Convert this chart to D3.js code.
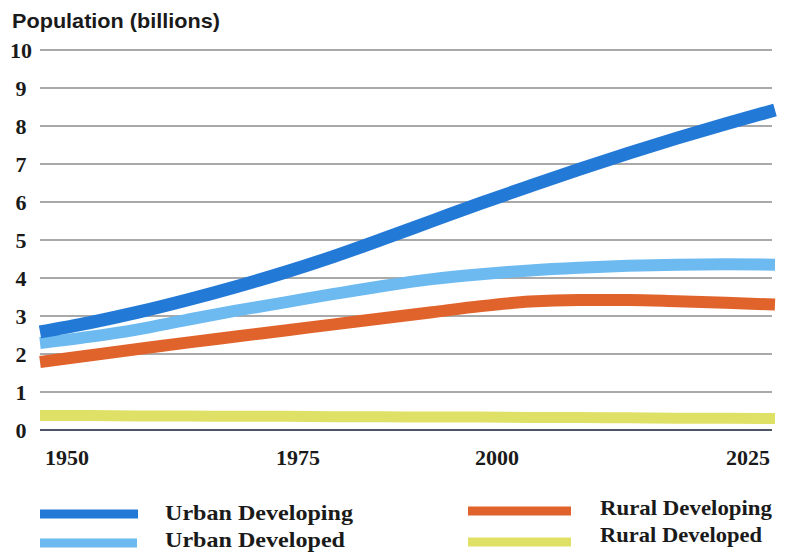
<!DOCTYPE html>
<html><head><meta charset="utf-8">
<script src="https://cdn.jsdelivr.net/npm/d3@7"></script>
<style>
html,body{margin:0;padding:0;background:#fff;}
svg{display:block;}
</style></head>
<body>
<svg id="chart" width="798" height="553"></svg>
<script>
const years = [1950,1955,1960,1965,1970,1975,1980,1985,1990,1995,2000,2005,2010,2015,2020,2025];
const urbanDeveloping = [2.58,2.82,3.1,3.42,3.77,4.15,4.57,5.03,5.5,5.97,6.42,6.86,7.28,7.68,8.06,8.42];
const urbanDeveloped  = [2.29,2.45,2.65,2.9,3.14,3.36,3.58,3.79,3.97,4.1,4.2,4.27,4.32,4.35,4.36,4.35];
const ruralDeveloping = [1.79,1.96,2.13,2.3,2.46,2.62,2.78,2.94,3.1,3.26,3.38,3.42,3.42,3.39,3.35,3.3];
const ruralDeveloped  = [0.38,0.38,0.37,0.37,0.36,0.36,0.35,0.35,0.34,0.34,0.33,0.33,0.32,0.31,0.31,0.3];
const yTicks = [0,1,2,3,4,5,6,7,8,9,10];
const xTickLabels = ["1950","1975","2000","2025"];
const seriesNames = ["Urban Developing","Urban Developed","Rural Developing","Rural Developed"];
const seriesColors = ["#2279d6","#6dbaf0","#e0632b","#dfe167"];

const series = [urbanDeveloping, urbanDeveloped, ruralDeveloping, ruralDeveloped].map((vals,i)=>({
  name: seriesNames[i], color: seriesColors[i],
  values: vals.map((v,j)=>({year: years[j], value: v}))
}));

const svg = d3.select("#chart");
const x = d3.scaleLinear().domain([1950,2025]).range([40,775]);
const xLab = d3.scaleLinear().domain([1950,1975,2000,2025]).range([67,298,497,748]);
const y = d3.scaleLinear().domain([0,10]).range([430,50]);

// title
svg.append("text").attr("x",12).attr("y",28)
  .attr("font-family","'Liberation Sans Narrow','Liberation Sans',Arial,sans-serif")
  .attr("font-weight","bold").attr("font-size",21).attr("fill","#1a1a1a")
  .attr("textLength",208).attr("lengthAdjust","spacingAndGlyphs")
  .text("Population (billions)");

// gridlines
svg.append("g").selectAll("line").data(yTicks).join("line")
  .attr("x1",40).attr("x2",772)
  .attr("y1",d=>y(d)).attr("y2",d=>y(d))
  .attr("stroke",d=>d===0?"#4d5566":"#8c8c8c")
  .attr("stroke-width",d=>d===0?2.2:1.5);

// y labels
svg.append("g").selectAll("text").data(yTicks).join("text")
  .attr("x",21).attr("y",d=>y(d)).attr("dy","0.35em")
  .attr("text-anchor","middle")
  .attr("font-family","'Liberation Serif','Times New Roman',serif")
  .attr("font-weight","bold").attr("font-size",22).attr("fill","#1a1a1a")
  .text(d=>d);

// x labels
svg.append("g").selectAll("text").data(xTickLabels).join("text")
  .attr("x",d=>xLab(+d)).attr("y",465)
  .attr("text-anchor","middle")
  .attr("font-family","'Liberation Serif','Times New Roman',serif")
  .attr("font-weight","bold").attr("font-size",22).attr("fill","#1a1a1a")
  .text(d=>d);

// lines
const line = d3.line().x(d=>x(d.year)).y(d=>y(d.value)).curve(d3.curveMonotoneX);
const widths = [13,12,12,11];
svg.append("g").selectAll("path").data(series.slice().reverse()).join("path")
  .attr("d",d=>line(d.values))
  .attr("fill","none")
  .attr("stroke",d=>d.color)
  .attr("stroke-width",d=>widths[seriesNames.indexOf(d.name)])
  .attr("stroke-linecap","butt");

// legend
const legendPos = [
  {sx:40, sw:98, sy:514, tx:165, ty:520, tl:188},
  {sx:40, sw:97, sy:543, tx:165, ty:547, tl:180},
  {sx:468, sw:103, sy:511, tx:600, ty:515, tl:172},
  {sx:468, sw:103, sy:542, tx:600, ty:542, tl:162}
];
const lg = svg.append("g");
series.forEach((s,i)=>{
  const p = legendPos[i];
  lg.append("line").attr("x1",p.sx).attr("x2",p.sx+p.sw)
    .attr("y1",p.sy).attr("y2",p.sy)
    .attr("stroke",s.color).attr("stroke-width",9);
  lg.append("text").attr("x",p.tx).attr("y",p.ty)
    .attr("font-family","'Liberation Serif','Times New Roman',serif")
    .attr("font-weight","bold").attr("font-size",22).attr("fill","#1a1a1a")
    .attr("textLength",p.tl).attr("lengthAdjust","spacingAndGlyphs")
    .text(s.name);
});
</script>
</body></html>
